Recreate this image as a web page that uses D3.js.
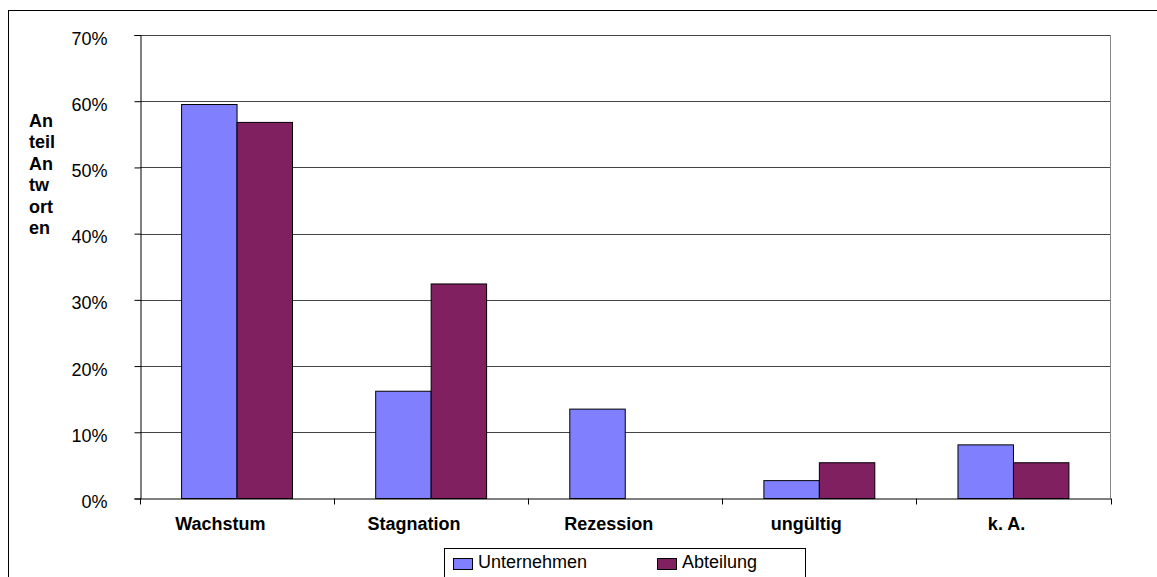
<!DOCTYPE html>
<html><head><meta charset="utf-8">
<script src="https://cdn.jsdelivr.net/npm/d3@7"></script>
<style>body{margin:0;background:#fff;overflow:hidden}svg{display:block;font-family:"Liberation Sans",Arial,sans-serif}</style>
</head><body><svg id="c" width="1157" height="577"></svg>
<script>
const categories = ["Wachstum","Stagnation","Rezession","ungültig","k. A."];
const seriesNames = ["Unternehmen","Abteilung"];
const unternehmen = [0.595,0.162,0.135,0.027,0.081];
const abteilung = [0.568,0.324,0,0.054,0.054];
const yTicks = [0,0.1,0.2,0.3,0.4,0.5,0.6,0.7];
const yTitleLines = ["An","teil","An","tw","ort","en"];
const colors = ["#8080FF","#802060"];

const svg = d3.select("#c");
// outer chart border
svg.append("rect").attr("x",8.5).attr("y",10.5).attr("width",1200).attr("height",600)
  .attr("fill","none").attr("stroke","#000").attr("stroke-width",1);

const L=140, R=1110.5, T=35, B=498.5;
const x = d3.scaleBand().domain(categories).range([L,R]).paddingInner(0).paddingOuter(0);
const y = d3.scaleLinear().domain([0,0.7]).range([B,T]);
const xs = d3.scaleBand().domain(seriesNames).range([0,x.bandwidth()]).paddingInner(0).paddingOuter(0.75);

// gridlines
svg.append("g").selectAll("line").data(yTicks.filter(d=>d>0)).join("line")
  .attr("x1",L).attr("x2",R).attr("y1",d=>Math.round(y(d))+0.5).attr("y2",d=>Math.round(y(d))+0.5)
  .attr("stroke","#444").attr("stroke-width",1);
// right border of plot
svg.append("line").attr("x1",R).attr("x2",R).attr("y1",T).attr("y2",B).attr("stroke","#888");

// bars
const data = categories.map((c,i)=>({c, vals:[unternehmen[i],abteilung[i]]}));
const g = svg.append("g");
data.forEach(d=>{
  d.vals.forEach((v,j)=>{
    if(v<=0) return;
    g.append("rect")
      .attr("x",x(d.c)+xs(seriesNames[j]))
      .attr("y",y(v))
      .attr("width",xs.bandwidth())
      .attr("height",B-y(v))
      .attr("fill",colors[j]).attr("stroke","#000").attr("stroke-width",1);
  });
});

// y axis
const ya = svg.append("g").attr("transform",`translate(${L+0.5},0)`)
  .call(d3.axisLeft(y).tickValues(yTicks).tickFormat(d3.format(".0%")).tickSize(6).tickPadding(27));
ya.attr("font-size",null).attr("font-family",null);
ya.select(".domain").attr("stroke","#000");
ya.selectAll(".tick line").attr("stroke","#000");
ya.selectAll(".tick text").attr("font-size",18).attr("dy","0.5em").attr("fill","#000");

// x axis
const xa = svg.append("g").attr("transform",`translate(0,${B})`)
  .call(d3.axisBottom(x).tickSize(0).tickPadding(19));
xa.attr("font-size",null).attr("font-family",null);
xa.select(".domain").attr("stroke","#000");
xa.selectAll(".tick text").attr("font-size",18).attr("font-weight","bold").attr("fill","#000")
  .attr("dx",function(){ return -0.185*this.getComputedTextLength(); });
// category separator ticks
svg.append("g").selectAll("line").data(categories.map(c=>x(c)).concat([R])).join("line")
  .attr("x1",d=>Math.round(d)+0.5).attr("x2",d=>Math.round(d)+0.5).attr("y1",B).attr("y2",B+6).attr("stroke","#000");

// y title
svg.append("g").selectAll("text").data(yTitleLines).join("text")
  .attr("x",29).attr("y",(d,i)=>127+i*21.4)
  .attr("font-size",18).attr("font-weight","bold").attr("fill","#000").text(d=>d);

// legend
svg.append("rect").attr("x",444.5).attr("y",548.5).attr("width",361).attr("height",60)
  .attr("fill","#fff").attr("stroke","#000");
const legX=[453,657];
seriesNames.forEach((s,i)=>{
  svg.append("rect").attr("x",legX[i]+0.5).attr("y",558.5).attr("width",19).attr("height",11)
    .attr("fill",colors[i]).attr("stroke","#000");
  svg.append("text").attr("x",legX[i]+25).attr("y",568).attr("font-size",18).attr("fill","#000").text(s);
});
</script></body></html>
